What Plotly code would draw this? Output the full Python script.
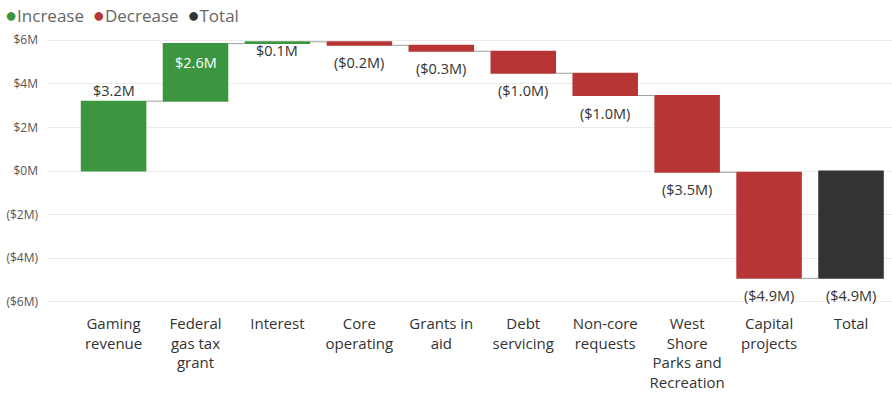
import plotly.graph_objects as go
import numpy as np

# ---- data ----
categories = ["Gaming revenue", "Federal gas tax grant", "Interest", "Core operating",
              "Grants in aid", "Debt servicing", "Non-core requests",
              "West Shore Parks and Recreation", "Capital projects", "Total"]
tick_labels = ["Gaming<br>revenue", "Federal<br>gas tax<br>grant", "Interest", "Core<br>operating",
               "Grants in<br>aid", "Debt<br>servicing", "Non-core<br>requests",
               "West<br>Shore<br>Parks and<br>Recreation", "Capital<br>projects", "Total"]
deltas = [3.20, 2.64, 0.08, -0.16, -0.27, -1.01, -1.02, -3.52, -4.86]  # $M
measures = ["relative"] * 9 + ["total"]
y_ticks = [-6, -4, -2, 0, 2, 4, 6]
y_tick_text = ["($6M)", "($4M)", "($2M)", "$0M", "$2M", "$4M", "$6M"]

GREEN = "#3C9640"
RED = "#B83535"
DARK = "#333333"
FONT = "Open Sans, Segoe UI, sans-serif"

def fmt(v):
    s = f"${abs(v):.1f}M"
    return f"({s})" if v < 0 else s

total = float(np.sum(deltas))
values = deltas + [0]

fig = go.Figure()
fig.add_trace(go.Waterfall(
    x=tick_labels, y=values, measure=measures,
    increasing=dict(marker=dict(color=GREEN)),
    decreasing=dict(marker=dict(color=RED)),
    totals=dict(marker=dict(color=DARK)),
    connector=dict(line=dict(color="#A0A0A0", width=1)),
    textposition="none", showlegend=False, hoverinfo="skip",
))

# data labels
ann = []
cum = 0.0
for i, lab in enumerate(tick_labels):
    if i < len(deltas):
        d = deltas[i]
        start, end = cum, cum + d
        cum = end
    else:
        d = total
        start, end = 0, total
    top, bot = max(start, end), min(start, end)
    txt = fmt(d)
    color = "#333333"
    if i == 0:
        y, ya, ys = top, "bottom", -1
    elif i == 1:
        y, ya, ys, color = top, "top", -7, "white"
    elif i == 2:
        y, ya, ys = bot, "top", 5
    else:
        y, ya, ys = bot, "top", -6
    ann.append(dict(x=lab, y=y, xref="x", yref="y", text=txt, showarrow=False,
                    yanchor=ya, yshift=ys, font=dict(size=14.5, color=color, family=FONT)))

# legend (text)
def dot(c):
    return f"<span style='color:{c};font-size:20px'>●</span>"
legend_txt = (f"{dot(GREEN)}Increase  {dot(RED)}Decrease  {dot(DARK)}Total")
ann.append(dict(x=0, y=1, xref="paper", yref="paper", xanchor="left", yanchor="top",
                text=legend_txt, showarrow=False, xshift=-45, yshift=40,
                font=dict(size=17, color="#666666", family=FONT)))
fig.update_layout(annotations=ann)

fig.update_layout(
    width=892, height=405,
    margin=dict(l=48, r=0, t=39, b=102, pad=0),
    paper_bgcolor="white", plot_bgcolor="white",
    font=dict(family=FONT),
    xaxis=dict(range=[-0.8, 9.5], showgrid=False, showline=False, ticks="",
               tickfont=dict(size=15, color="#333333"), ticklabelstandoff=10),
    yaxis=dict(range=[-6.05, 6.05], tickvals=y_ticks, ticktext=y_tick_text,
               showgrid=True, gridcolor="#EBEBEB", gridwidth=1, zeroline=False,
               showline=False, tickfont=dict(size=12, color="#555555"), ticklabelstandoff=9),
    bargap=0.22,
)
fig.write_html("out.html")
